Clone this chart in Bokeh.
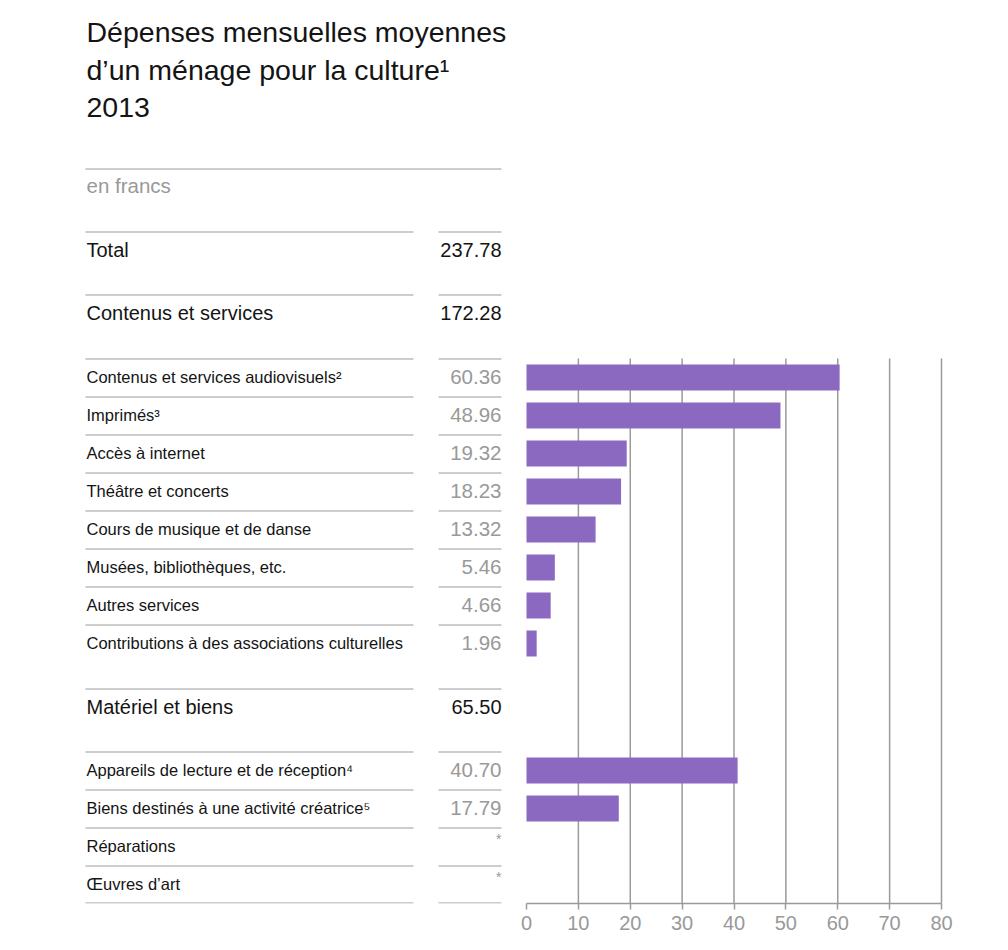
from bokeh.plotting import figure
from bokeh.models import Range1d, LinearAxis, FixedTicker
from bokeh.core.properties import value
from bokeh.embed import file_html
from bokeh.resources import INLINE

# ---------------- data ----------------
title_lines = ["Dépenses mensuelles moyennes", "d’un ménage pour la culture¹", "2013"]
unit_label = "en francs"

header_labels = ["Total", "Contenus et services", "Matériel et biens"]
header_values = [237.78, 172.28, 65.50]

services_labels = [
    "Contenus et services audiovisuels²",
    "Imprimés³",
    "Accès à internet",
    "Théâtre et concerts",
    "Cours de musique et de danse",
    "Musées, bibliothèques, etc.",
    "Autres services",
    "Contributions à des associations culturelles",
]
services_values = [60.36, 48.96, 19.32, 18.23, 13.32, 5.46, 4.66, 1.96]

goods_labels = [
    "Appareils de lecture et de réception⁴",
    "Biens destinés à une activité créatrice⁵",
    "Réparations",
    "Œuvres d’art",
]
goods_values = [40.70, 17.79, None, None]
missing_mark = "*"

axis_ticks = [0, 10, 20, 30, 40, 50, 60, 70, 80]
axis_max = 80

# ---------------- layout / style ----------------
FONT = value("Liberation Sans")
TXT = "#141414"
GRAY_TXT = "#999999"
LINE = "#9b9b9b"
PURPLE = "#8b69c1"

W, H = 990, 940
PAGE = 0
X_ZERO = 526.0          # page pixel of value 0
X_MAX = 941.0           # page pixel of value axis_max
PPU = (X_MAX - X_ZERO) / axis_max
FRAME_BOTTOM = 903


def px(xpage):
    return (xpage - X_ZERO) / PPU


LABEL_X = px(86)
LABEL_LINE = (px(85), px(413))
VALUE_LINE = (px(438), px(501))
VALUE_X = px(501)

ROW_H = 38
TOP_LINE = 168
HEADER_TOPS = [231, 294, 688]
SERVICES_TOP = 358
GOODS_TOP = 751
TITLE_Y = [31, 69, 107]

p = figure(
    width=W, height=H,
    x_range=Range1d(px(PAGE), px(PAGE + W)),
    y_range=Range1d(FRAME_BOTTOM, PAGE),
    output_backend="svg", toolbar_location=None,
    x_axis_type=None, y_axis_type=None,
    min_border_left=0, min_border_right=0, min_border_top=0,
    min_border_bottom=H - (FRAME_BOTTOM - PAGE),
    outline_line_color=None,
    background_fill_color="white", border_fill_color="white",
)

# ---------- table rules ----------
xs0, xs1, ys = [], [], []
def add_rule(y, full=False):
    if full:
        xs0.append(LABEL_LINE[0]); xs1.append(VALUE_LINE[1]); ys.append(y + 0.5)
    else:
        xs0.append(LABEL_LINE[0]); xs1.append(LABEL_LINE[1]); ys.append(y + 0.5)
        xs0.append(VALUE_LINE[0]); xs1.append(VALUE_LINE[1]); ys.append(y + 0.5)

add_rule(TOP_LINE, full=True)
for t in HEADER_TOPS:
    add_rule(t)
serv_tops = [SERVICES_TOP + i * ROW_H for i in range(len(services_labels))]
goods_tops = [GOODS_TOP + i * ROW_H for i in range(len(goods_labels))]
for t in serv_tops + goods_tops:
    add_rule(t)
add_rule(goods_tops[-1] + ROW_H - 1)
p.segment(x0=xs0, y0=ys, x1=xs1, y1=ys, line_color=LINE, line_width=1.2)

# ---------- vertical grid lines ----------
grid_x = [t for t in axis_ticks if t > 0]
p.segment(x0=grid_x, y0=[SERVICES_TOP] * len(grid_x), x1=grid_x, y1=[FRAME_BOTTOM] * len(grid_x),
          line_color=LINE, line_width=1.5)

# ---------- bars ----------
bar_y, bar_v = [], []
for t, v in zip(serv_tops + goods_tops, services_values + goods_values):
    if v is not None:
        bar_y.append(t + ROW_H / 2)
        bar_v.append(v)
p.hbar(y=bar_y, left=0, right=bar_v, height=26, fill_color=PURPLE, line_color=None)

# ---------- texts ----------
p.text(x=[LABEL_X] * 3, y=TITLE_Y, text=title_lines, text_font=FONT,
       text_font_size=value("28.5px"), text_color=TXT, text_baseline="alphabetic")
p.text(x=[LABEL_X], y=[TOP_LINE + 17], text=[unit_label], text_font=FONT,
       text_font_size=value("20.5px"), text_color=GRAY_TXT, text_baseline="alphabetic")
p.text(x=[LABEL_X] * 3, y=[t + 18 for t in HEADER_TOPS], text=header_labels, text_font=FONT,
       text_font_size=value("20px"), text_color=TXT, text_baseline="alphabetic")
p.text(x=[VALUE_X] * 3, y=[t + 18 for t in HEADER_TOPS], text=[f"{v:.2f}" for v in header_values],
       text_font=FONT, text_font_size=value("20px"), text_color=TXT, text_baseline="alphabetic",
       text_align="right")

all_tops = serv_tops + goods_tops
all_labels = services_labels + goods_labels
all_values = services_values + goods_values
p.text(x=[LABEL_X] * len(all_tops), y=[t + 18 for t in all_tops], text=all_labels, text_font=FONT,
       text_font_size=value("16.5px"), text_color=TXT, text_baseline="alphabetic")
val_txt = [f"{v:.2f}" for v in all_values if v is not None]
val_y = [t + 18 for t, v in zip(all_tops, all_values) if v is not None]
p.text(x=[VALUE_X] * len(val_txt), y=val_y, text=val_txt, text_font=FONT,
       text_font_size=value("20.5px"), text_color=GRAY_TXT, text_baseline="alphabetic",
       text_align="right")
miss_y = [t + 11 for t, v in zip(all_tops, all_values) if v is None]
p.text(x=[VALUE_X] * len(miss_y), y=miss_y, text=[missing_mark] * len(miss_y), text_font=FONT,
       text_font_size=value("14px"), text_color=GRAY_TXT, text_baseline="alphabetic",
       text_align="right")

# ---------- value axis ----------
ax = LinearAxis(
    ticker=FixedTicker(ticks=axis_ticks), bounds=(0, axis_max),
    axis_line_color=LINE, axis_line_width=1.5,
    major_tick_line_color=LINE, major_tick_line_width=1.5, major_tick_in=0, major_tick_out=6,
    minor_tick_line_color=None,
    major_label_text_font="Liberation Sans", major_label_text_font_size="20px",
    major_label_text_color=GRAY_TXT, major_label_standoff=6,
)
p.add_layout(ax, "below")

open("out.html", "w").write(file_html(p, INLINE))
